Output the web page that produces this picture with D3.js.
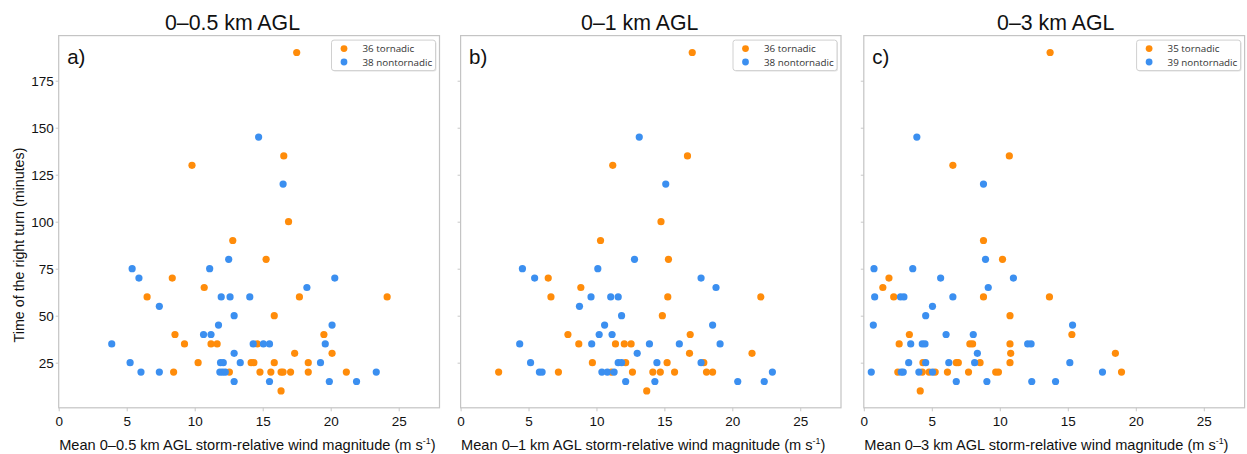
<!DOCTYPE html>
<html>
<head>
<meta charset="utf-8">
<script src="https://cdn.jsdelivr.net/npm/d3@7/dist/d3.min.js"></script>
<style>
  html, body { margin: 0; padding: 0; background: #fff; }
  svg { display: block; font-family: "Liberation Sans", Arial, Helvetica, sans-serif; }
</style>
</head>
<body>
<svg id="chart" width="1247" height="454"></svg>
<script>
// Panel titles, labels and legend counts
const layerTitles = ["0–0.5 km AGL", "0–1 km AGL", "0–3 km AGL"];
const layerNames = ["0–0.5", "0–1", "0–3"];
const panelTags = ["a)", "b)", "c)"];
const tornadicCounts = [36, 36, 35];
const nontornadicCounts = [38, 38, 39];
const xTicks = [0, 5, 10, 15, 20, 25];
const yTicks = [25, 50, 75, 100, 125, 150, 175];

// [mean storm-relative wind (m/s), time of right turn (min)]
const tornadic05 = [
  [17.5,190],[9.8,130],[16.55,135],[16.9,100],[12.8,90],[15.25,80],[8.35,70],[10.7,65],
  [6.5,60],[17.7,60],[24.15,60],[15.85,50],[8.55,40],[19.5,40],[9.25,35],[11.2,35],
  [11.65,35],[14.6,35],[17.35,30],[20.1,30],[10.25,25],[14.15,25],[14.35,25],[15.85,25],
  [18.35,25],[8.45,20],[12.55,20],[14.8,20],[15.6,20],[16.35,20],[16.5,20],[17.05,20],
  [18.35,20],[21.15,20],[16.35,10]
];
const nontornadic05 = [
  [14.7,145],[16.5,120],[12.5,80],[11.1,75],[5.4,75],[5.9,70],[20.3,70],[18.25,65],
  [11.95,60],[12.6,60],[14.05,60],[7.4,55],[12.9,50],[11.75,45],[20.1,45],[10.65,40],
  [11.2,40],[3.9,35],[14.3,35],[15.05,35],[15.5,35],[19.6,35],[12.9,30],[5.25,25],
  [11.9,25],[12.1,25],[13.35,25],[19.25,25],[6.05,20],[7.4,20],[11.85,20],[12.05,20],
  [12.25,20],[23.35,20],[12.9,15],[15.5,15],[19.9,15],[21.9,15]
];
const tornadic1 = [
  [17.05,190],[16.7,135],[11.2,130],[14.75,100],[10.3,90],[15.3,80],[6.45,70],[8.85,65],
  [6.65,60],[15.25,60],[22.1,60],[14.85,50],[7.9,40],[16.9,40],[8.7,35],[11.4,35],
  [12.05,35],[12.55,35],[16.85,30],[21.45,30],[9.7,25],[12.15,25],[15.2,25],[17.9,25],
  [2.8,20],[7.2,20],[11.1,20],[12.65,20],[14.15,20],[14.7,20],[15.75,20],[18.1,20],
  [18.55,20],[13.7,10]
];
const nontornadic1 = [
  [13.15,145],[15.1,120],[12.8,80],[4.55,75],[10.1,75],[5.45,70],[17.7,70],[18.8,65],
  [9.6,60],[11.05,60],[11.6,60],[8.75,55],[11.85,50],[10.6,45],[18.55,45],[10.2,40],
  [11.15,40],[4.35,35],[9.65,35],[13.9,35],[16.1,35],[19.1,35],[13.0,30],[5.15,25],
  [11.6,25],[11.85,25],[14.45,25],[17.7,25],[5.8,20],[6.0,20],[10.4,20],[10.8,20],
  [11.3,20],[22.95,20],[12.15,15],[14.3,15],[20.4,15],[22.35,15]
];
const tornadic3 = [
  [13.7,190],[10.7,135],[6.55,130],[8.8,90],[10.2,80],[1.85,70],[1.4,65],[2.2,60],
  [8.8,60],[13.65,60],[10.75,50],[3.35,40],[15.3,40],[2.6,35],[7.8,35],[8.0,35],
  [10.75,35],[10.8,30],[18.5,30],[4.35,25],[6.8,25],[6.95,25],[8.55,25],[10.75,25],
  [2.5,20],[4.3,20],[4.8,20],[5.25,20],[6.15,20],[7.7,20],[9.7,20],[9.9,20],
  [18.95,20],[4.15,10]
];
const nontornadic3 = [
  [3.9,145],[8.8,120],[8.95,80],[0.75,75],[3.6,75],[5.65,70],[11.0,70],[9.15,65],
  [0.8,60],[2.7,60],[2.95,60],[6.55,60],[5.05,55],[4.55,50],[0.7,45],[15.35,45],
  [6.05,40],[8.05,40],[3.45,35],[4.3,35],[4.5,35],[12.05,35],[12.3,35],[8.35,30],
  [3.3,25],[4.55,25],[6.25,25],[8.15,25],[15.15,25],[0.55,20],[2.75,20],[2.9,20],
  [4.05,20],[5.05,20],[17.55,20],[6.8,15],[9.05,15],[12.35,15],[14.1,15]
];

const tornadicSets = [tornadic05, tornadic1, tornadic3];
const nontornadicSets = [nontornadic05, nontornadic1, nontornadic3];

// Layout
const ORANGE = "#ff8c0a";
const BLUE = "#3b8ff0";
const plotTop = 35.6, plotBottom = 407.8;
const panelLeft = [58.7, 460.6, 863.8];
const panelRight = [439.5, 841.0, 1244.6];
const titleCenter = [232.5, 639.7, 1055.7];

const svg = d3.select("#chart");
const y = d3.scaleLinear().domain([1, 199]).range([plotBottom, plotTop]);

layerTitles.forEach((title, i) => {
  const x = d3.scaleLinear().domain([0, 28]).range([panelLeft[i], panelRight[i]]);
  const g = svg.append("g");

  // title
  g.append("text")
    .attr("x", titleCenter[i]).attr("y", 29.5)
    .attr("text-anchor", "middle")
    .attr("font-size", 21.3).attr("fill", "#111")
    .text(title);

  // x axis
  const xa = g.append("g")
    .attr("transform", `translate(0,${plotBottom})`)
    .call(d3.axisBottom(x).tickValues(xTicks).tickFormat(d3.format("d")).tickSize(3.5).tickPadding(5));
  xa.select(".domain").remove();
  xa.selectAll(".tick line").attr("stroke", "#c8c8c8");
  xa.selectAll(".tick text").attr("font-size", 13.5).attr("fill", "#111")
    .attr("font-family", "Liberation Sans, Arial, sans-serif");

  // y axis
  const ya = g.append("g")
    .attr("transform", `translate(${panelLeft[i]},0)`)
    .call(d3.axisLeft(y).tickValues(yTicks)
      .tickFormat(i === 0 ? d3.format("d") : () => "")
      .tickSize(3).tickPadding(2));
  ya.select(".domain").remove();
  ya.selectAll(".tick line").attr("stroke", "#c8c8c8");
  ya.selectAll(".tick text").attr("font-size", 13.5).attr("fill", "#111")
    .attr("font-family", "Liberation Sans, Arial, sans-serif");

  // plot frame
  g.append("rect")
    .attr("x", panelLeft[i]).attr("y", plotTop)
    .attr("width", panelRight[i] - panelLeft[i])
    .attr("height", plotBottom - plotTop)
    .attr("fill", "none").attr("stroke", "#c4c4c4").attr("stroke-width", 1.2);

  // panel tag
  g.append("text")
    .attr("x", panelLeft[i] + 8.5).attr("y", 63.5)
    .attr("font-size", 20.5).attr("fill", "#111")
    .text(panelTags[i]);

  // points: tornadic first, nontornadic drawn on top
  g.append("g").selectAll("circle").data(tornadicSets[i]).join("circle")
    .attr("cx", d => x(d[0])).attr("cy", d => y(d[1]))
    .attr("r", 3.6).attr("fill", ORANGE);
  g.append("g").selectAll("circle").data(nontornadicSets[i]).join("circle")
    .attr("cx", d => x(d[0])).attr("cy", d => y(d[1]))
    .attr("r", 3.6).attr("fill", BLUE);

  // legend
  const lgW = 104, lgH = 30.5;
  const lgX = panelRight[i] - 4 - lgW, lgY = plotTop + 4.5;
  const lg = g.append("g");
  lg.append("rect")
    .attr("x", lgX + 1).attr("y", lgY + 1).attr("width", lgW).attr("height", lgH)
    .attr("rx", 2.5).attr("fill", "#e6e6e6");
  lg.append("rect")
    .attr("x", lgX).attr("y", lgY).attr("width", lgW).attr("height", lgH)
    .attr("rx", 2.5).attr("fill", "#fff").attr("stroke", "#d0d0d0").attr("stroke-width", 1);
  const entries = [
    { label: `${tornadicCounts[i]} tornadic`, color: ORANGE },
    { label: `${nontornadicCounts[i]} nontornadic`, color: BLUE }
  ];
  entries.forEach((e, k) => {
    const cy = lgY + 8.5 + k * 13.4;
    lg.append("circle").attr("cx", lgX + 12.5).attr("cy", cy).attr("r", 3.4).attr("fill", e.color);
    lg.append("text").attr("x", lgX + 31).attr("y", cy + 3.5)
      .attr("font-size", 9.8).attr("fill", "#333")
      .attr("font-family", "Open Sans, sans-serif")
      .text(e.label);
  });

  // x label with superscript unit
  const xl = g.append("text")
    .attr("x", panelLeft[i] + 0.5).attr("y", 449.5)
    .attr("font-size", 14.6).attr("fill", "#111");
  xl.append("tspan").text(`Mean ${layerNames[i]} km AGL storm-relative wind magnitude (m s`);
  xl.append("tspan").attr("font-size", 8.8).attr("dy", -6).text("-1");
  xl.append("tspan").attr("dy", 6).text(")");
});

// shared y label
svg.append("text")
  .attr("transform", "translate(19,245) rotate(-90)")
  .attr("text-anchor", "middle").attr("dy", "0.35em")
  .attr("font-size", 14.3).attr("fill", "#111")
  .text("Time of the right turn (minutes)");
</script>
</body>
</html>
